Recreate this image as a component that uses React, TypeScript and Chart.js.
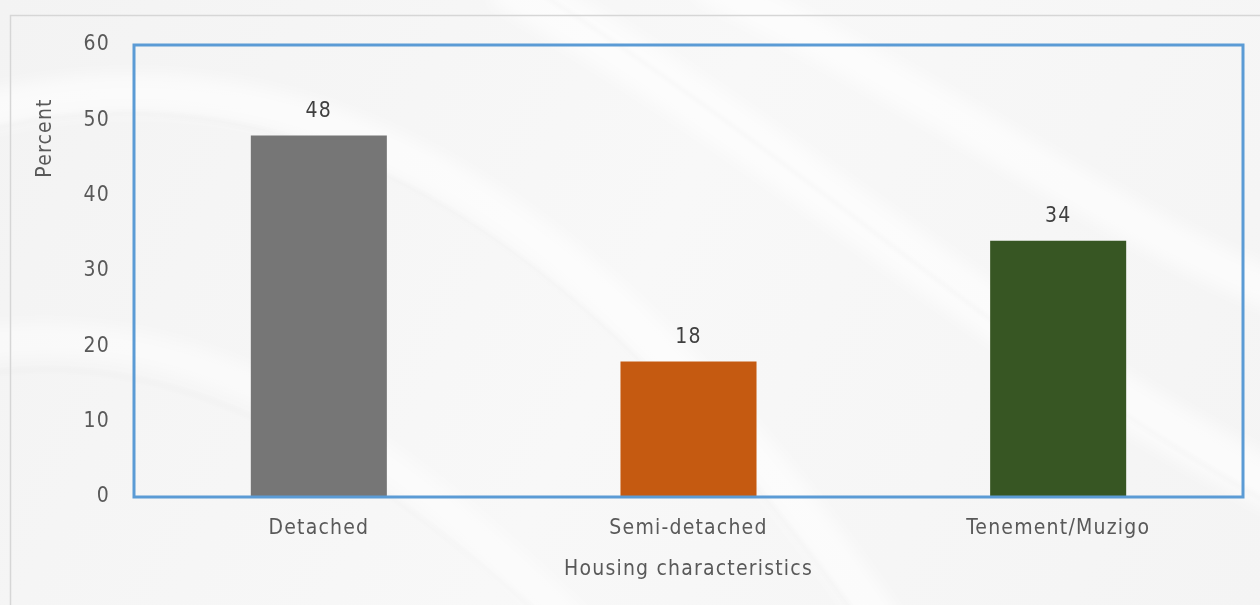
import React, { useEffect, useRef } from 'react';
import { Chart, registerables } from 'chart.js';

Chart.register(...registerables);

const categories = ['Detached', 'Semi-detached', 'Tenement/Muzigo'];
const percentValues = [48, 18, 34];
const barColors = ['#767676', '#C55A11', '#375623'];
const yTicks = [0, 10, 20, 30, 40, 50, 60];
const xTitle = 'Housing characteristics';
const yTitle = 'Percent';

const FONT = "'DejaVu Sans Condensed', 'DejaVu Sans', sans-serif";
const TEXT = '#595959';

const backgroundPlugin = {
  id: 'silkBackground',
  beforeDraw(chart: any) {
    const { ctx, width, height } = chart;
    ctx.save();
    const g = ctx.createLinearGradient(0, 0, width, height);
    g.addColorStop(0, '#f3f3f3');
    g.addColorStop(0.5, '#f8f8f8');
    g.addColorStop(1, '#f4f4f4');
    ctx.fillStyle = g;
    ctx.fillRect(0, 0, width, height);
    ctx.filter = 'blur(8px)';
    const swoosh = (pts: number[], color: string, w: number) => {
      ctx.beginPath();
      ctx.moveTo(pts[0], pts[1]);
      ctx.bezierCurveTo(pts[2], pts[3], pts[4], pts[5], pts[6], pts[7]);
      ctx.strokeStyle = color;
      ctx.lineWidth = w;
      ctx.stroke();
    };
    swoosh([-50, 120, 300, 20, 600, 200, 900, 650], 'rgba(255,255,255,0.6)', 40);
    swoosh([500, -20, 800, 150, 1000, 350, 1300, 500], 'rgba(255,255,255,0.6)', 50);
    swoosh([-50, 350, 200, 300, 400, 450, 600, 650], 'rgba(255,255,255,0.5)', 35);
    swoosh([700, -20, 950, 100, 1150, 250, 1300, 300], 'rgba(255,255,255,0.6)', 40);
    ctx.filter = 'blur(2px)';
    swoosh([-50, 140, 280, 40, 580, 220, 880, 650], 'rgba(0,0,0,0.025)', 3);
    swoosh([520, -20, 820, 170, 1020, 370, 1300, 520], 'rgba(0,0,0,0.025)', 3);
    swoosh([-50, 380, 180, 330, 380, 470, 580, 650], 'rgba(0,0,0,0.02)', 3);
    ctx.filter = 'none';
    ctx.strokeStyle = '#d6d6d6';
    ctx.lineWidth = 1.5;
    ctx.strokeRect(10.5, 15.5, width + 50, height + 50);
    ctx.restore();
    (ctx as any).letterSpacing = '1.2px';
  },
};

const frameAndLabelsPlugin = {
  id: 'frameAndLabels',
  afterDatasetsDraw(chart: any) {
    const { ctx, chartArea } = chart;
    ctx.save();
    ctx.strokeStyle = '#5B9BD5';
    ctx.lineWidth = 3;
    ctx.strokeRect(chartArea.left, chartArea.top, chartArea.right - chartArea.left, chartArea.bottom - chartArea.top);
    const meta = chart.getDatasetMeta(0);
    ctx.fillStyle = '#404040';
    ctx.font = `21px ${FONT}`;
    ctx.textAlign = 'center';
    ctx.textBaseline = 'middle';
    meta.data.forEach((bar: any, i: number) => {
      ctx.fillText(String(percentValues[i]), bar.x, bar.y - 24);
    });
    // y-axis title, placed near the upper part of the axis as in the reference
    ctx.translate(46, 138);
    ctx.rotate(-Math.PI / 2);
    ctx.fillStyle = TEXT;
    ctx.fillText(yTitle, 0, 0);
    ctx.restore();
  },
};

export default function App() {
  const ref = useRef<HTMLCanvasElement | null>(null);
  useEffect(() => {
    if (!ref.current) return;
    const chart = new Chart(ref.current, {
      type: 'bar',
      data: {
        labels: categories,
        datasets: [
          {
            data: percentValues,
            backgroundColor: barColors,
            borderWidth: 0,
            categoryPercentage: 1,
            barPercentage: 0.368,
          },
        ],
      },
      options: {
        animation: false,
        responsive: false,
        maintainAspectRatio: false,
        layout: { padding: { top: 45, right: 17, left: 0, bottom: 0 } },
        plugins: { legend: { display: false }, tooltip: { enabled: false } },
        scales: {
          x: {
            grid: { display: false, drawTicks: false },
            border: { display: false },
            ticks: { color: TEXT, font: { family: FONT, size: 21 }, padding: 19 },
            title: {
              display: true,
              text: xTitle,
              color: TEXT,
              font: { family: FONT, size: 21 },
              padding: { top: 0, bottom: 23 },
            },
            afterFit: (s: any) => {
              s.height = 108;
            },
          },
          y: {
            min: 0,
            max: 60,
            grid: { display: false, drawTicks: false },
            border: { display: false },
            afterBuildTicks: (s: any) => {
              s.ticks = yTicks.map((v) => ({ value: v }));
            },
            ticks: { color: TEXT, font: { family: FONT, size: 21 }, padding: 24 },
            title: { display: false },
            afterFit: (s: any) => {
              s.width = 134;
            },
          },
        },
      },
      plugins: [backgroundPlugin, frameAndLabelsPlugin],
    });
    return () => chart.destroy();
  }, []);
  return (
    <div style={{ position: 'fixed', left: 0, top: 0, width: 1260, height: 605, overflow: 'hidden' }}>
      <canvas ref={ref} width={1260} height={605} style={{ width: 1260, height: 605, display: 'block' }} />
    </div>
  );
}
